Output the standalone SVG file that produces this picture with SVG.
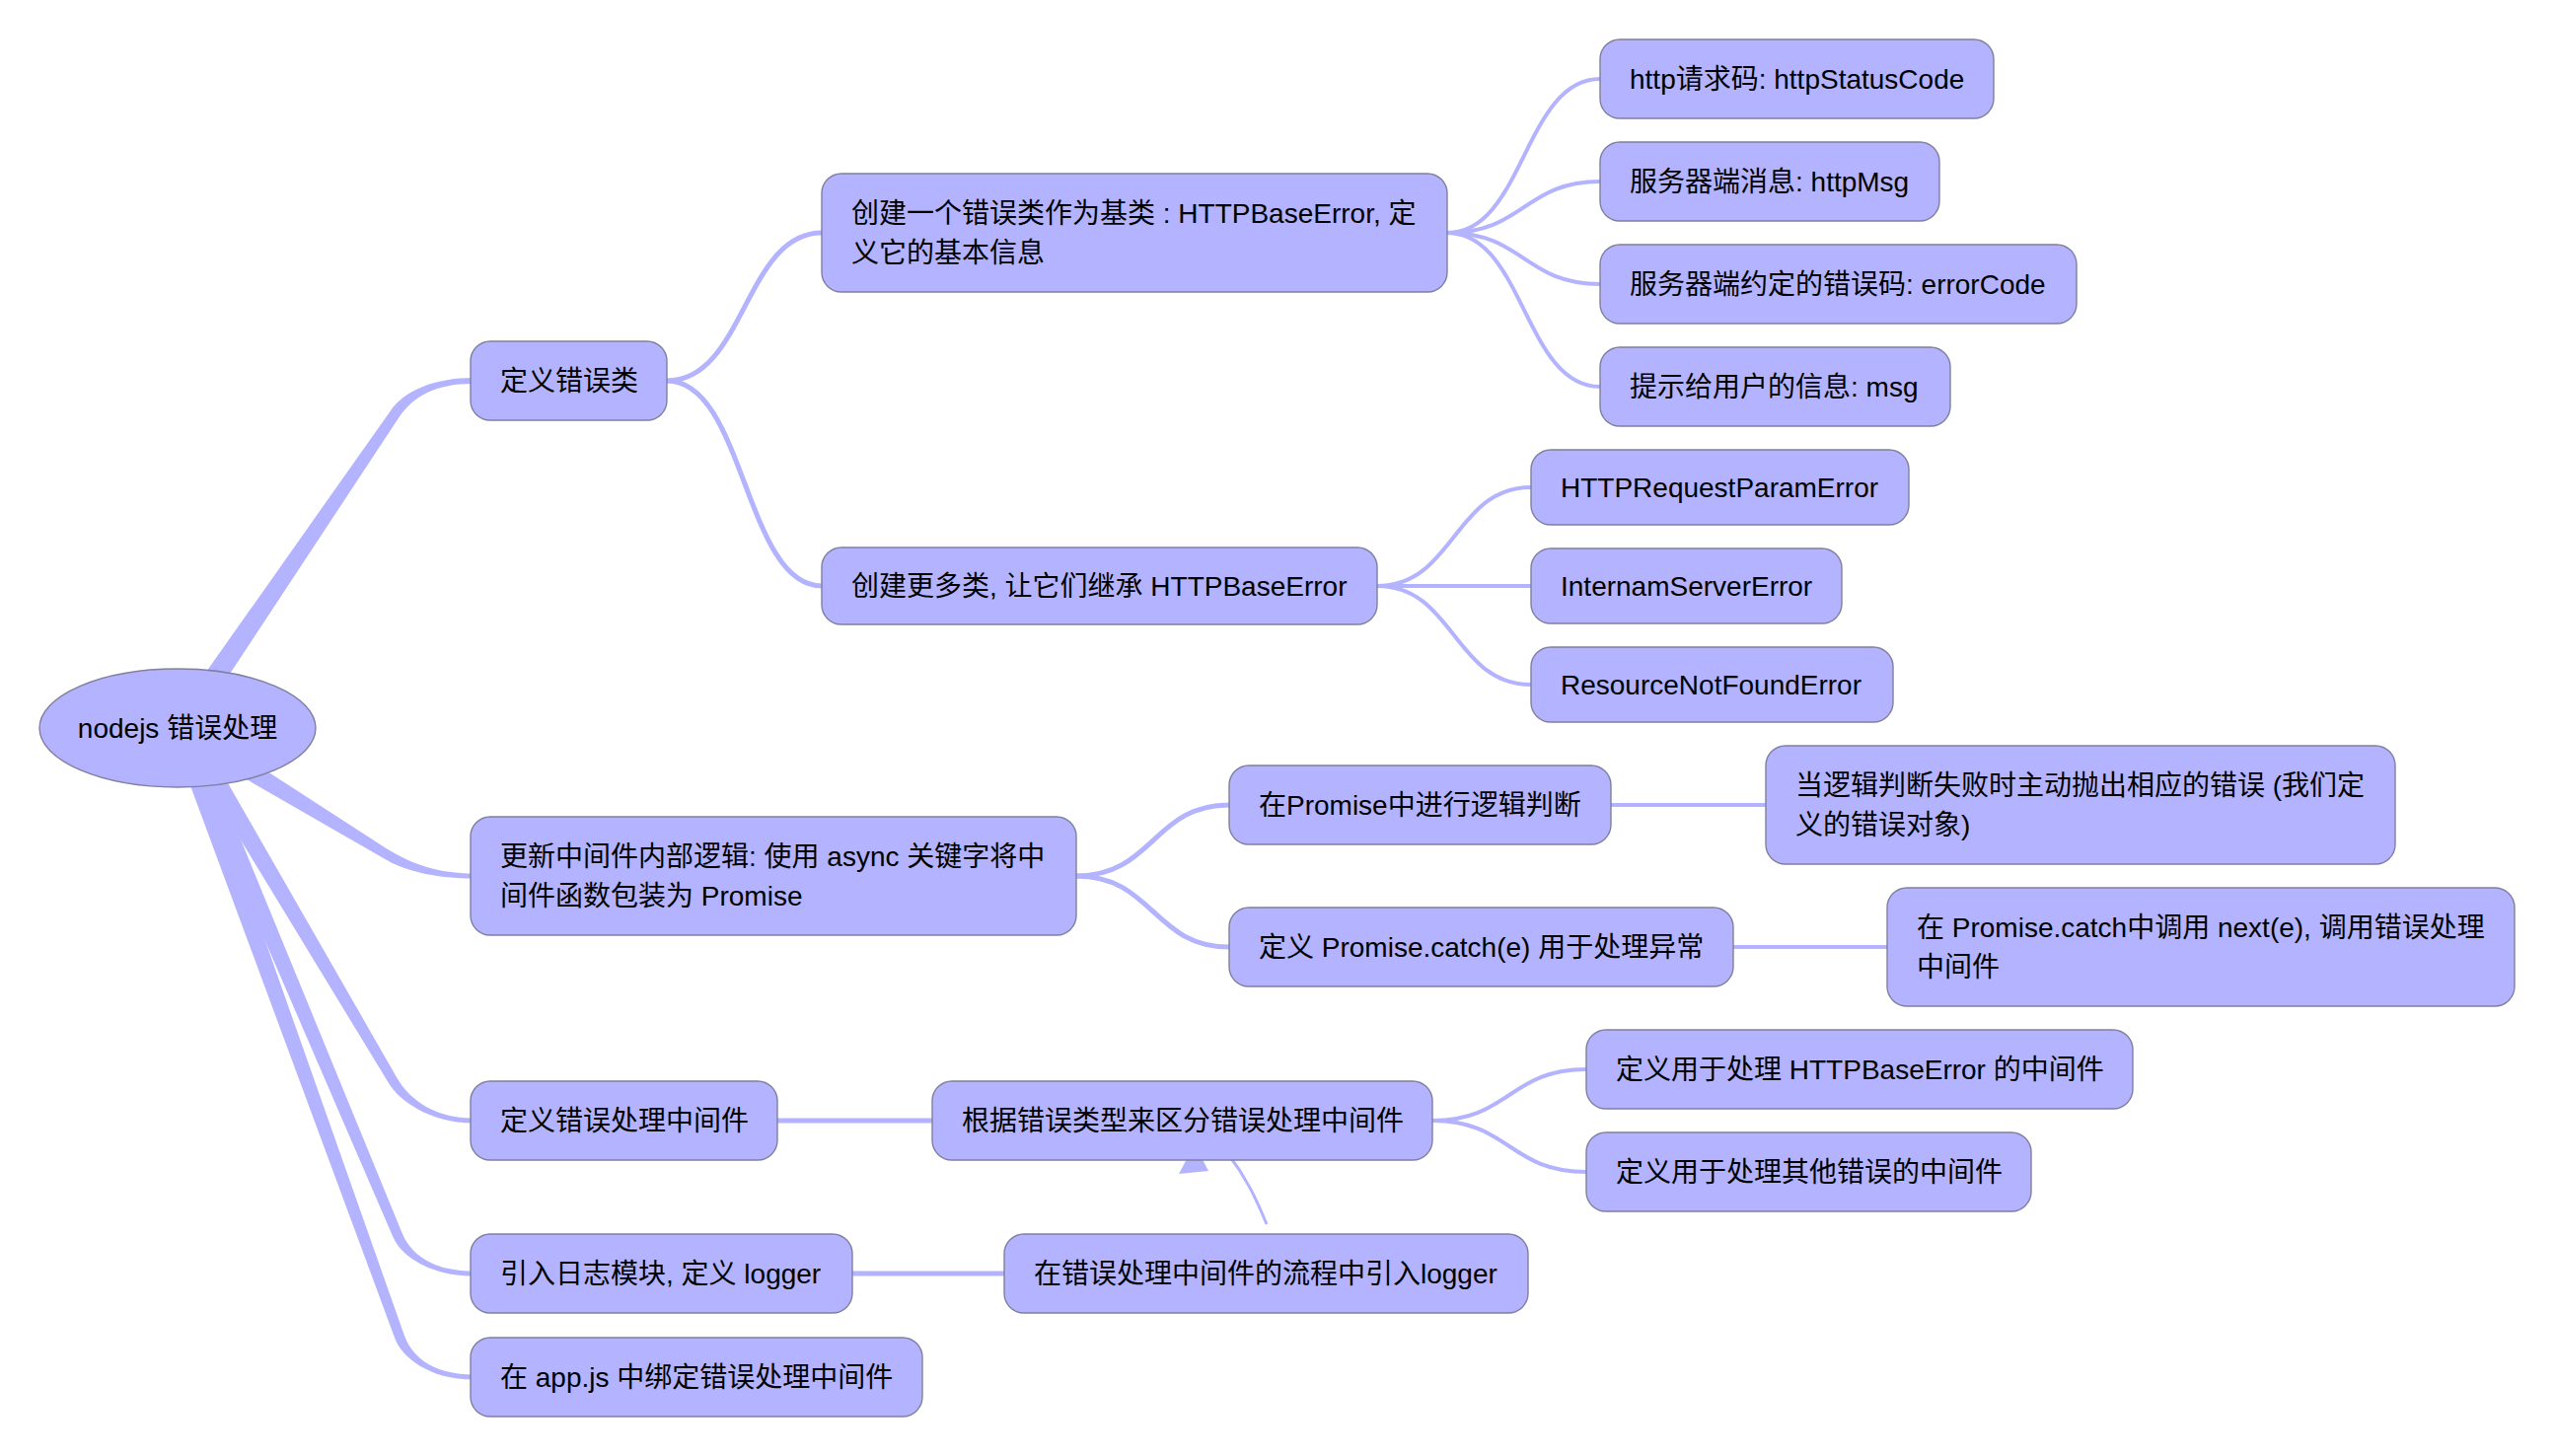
<svg xmlns="http://www.w3.org/2000/svg" width="2590" height="1476" viewBox="0 0 2590 1476">
<style>
.node rect, .node ellipse { fill: #b3b3ff; stroke: #7f7f9f; stroke-width: 1.4; }
.node text { font-family: "Liberation Sans", "Noto Sans CJK SC", sans-serif; font-size: 28px; fill: #000; }
.branch { fill: #b3b3ff; stroke: none; }
.e2 { fill: none; stroke: #b3b3ff; stroke-width: 5; }
.e3 { fill: none; stroke: #b3b3ff; stroke-width: 4; }
.link { fill: none; stroke: #b3b3ff; stroke-width: 3; }
.head { fill: #b3b3ff; }
</style>
<rect width="2590" height="1476" fill="#ffffff"/>
<g id="connectors">
  <!-- root branches (tapered) -->
  <path class="branch" d="M209.1,719.2 L404.5,423.1 C418.6,402.4 440,389 480,389 L480,383 C440,383 409.6,396.2 395.5,416.9 L190.9,706.8 Z"/>
  <path class="branch" d="M222.8,774.5 L387.4,869.3 C413,884.9 445,890.5 480,890.5 L480,885.5 C445,885.5 418.2,876.3 392.6,860.7 L233.2,757.5 Z"/>
  <path class="branch" d="M191.3,765 L393.7,1097.5 C403.6,1114.8 435,1138.5 480,1138.5 L480,1133.5 C435,1133.5 412.3,1109.8 402.3,1092.5 L208.7,755 Z"/>
  <path class="branch" d="M185.8,761.8 L398.4,1253.9 C406,1272.4 435,1293.5 480,1293.5 L480,1288.5 C435,1288.5 415.2,1268.6 407.6,1250.1 L204.3,754.2 Z"/>
  <path class="branch" d="M179.6,760.3 L400.3,1356.7 C407,1375.5 435,1398.5 480,1398.5 L480,1393.5 C435,1393.5 416.4,1372.2 409.7,1353.3 L198.4,753.7 Z"/>
  <!-- depth 2 -->
  <path class="e2" d="M676,386 C755,386 755,236 833,236"/>
  <path class="e2" d="M676,386 C755,386 755,594 833,594"/>
  <path class="e2" d="M1091,888 C1169,888 1169,816 1246,816"/>
  <path class="e2" d="M1091,888 C1169,888 1169,960 1246,960"/>
  <path class="e2" d="M788,1136 L945,1136"/>
  <path class="e2" d="M864,1291 L1018,1291"/>
  <!-- depth 3 -->
  <path class="e3" d="M1467,236 C1545,236 1545,80 1622,80"/>
  <path class="e3" d="M1467,236 C1545,236 1545,184 1622,184"/>
  <path class="e3" d="M1467,236 C1545,236 1545,288 1622,288"/>
  <path class="e3" d="M1467,236 C1545,236 1545,392 1622,392"/>
  <path class="e3" d="M1396,594 C1474,594 1474,494 1552,494"/>
  <path class="e3" d="M1396,594 L1552,594"/>
  <path class="e3" d="M1396,594 C1474,594 1474,694 1552,694"/>
  <path class="e3" d="M1633,816 L1790,816"/>
  <path class="e3" d="M1757,960 L1913,960"/>
  <path class="e3" d="M1452,1136 C1530,1136 1530,1084 1608,1084"/>
  <path class="e3" d="M1452,1136 C1530,1136 1530,1188 1608,1188"/>
  <!-- cross link -->
  <path class="link" d="M1284,1241 C1272,1212 1262,1192 1245,1170"/>
  <polygon class="head" points="1195,1190 1225,1187 1211,1160"/>
</g>
<g id="root" class="node"><ellipse cx="180" cy="738" rx="140" ry="60"/><text x="180" y="748" text-anchor="middle">nodejs 错误处理</text></g>
<g id="n-define" class="node"><rect x="477" y="346" width="199" height="80" rx="20"/><text x="507" y="396">定义错误类</text></g>
<g id="n-base" class="node"><rect x="833" y="176" width="634" height="120" rx="20"/><text x="863" y="226">创建一个错误类作为基类 : HTTPBaseError, 定</text><text x="863" y="266">义它的基本信息</text></g>
<g id="n-more" class="node"><rect x="833" y="555" width="563" height="78" rx="20"/><text x="863" y="604">创建更多类, 让它们继承 HTTPBaseError</text></g>
<g id="n-status" class="node"><rect x="1622" y="40" width="399" height="80" rx="20"/><text x="1652" y="90">http请求码: httpStatusCode</text></g>
<g id="n-httpmsg" class="node"><rect x="1622" y="144" width="344" height="80" rx="20"/><text x="1652" y="194">服务器端消息: httpMsg</text></g>
<g id="n-code" class="node"><rect x="1622" y="248" width="483" height="80" rx="20"/><text x="1652" y="298">服务器端约定的错误码: errorCode</text></g>
<g id="n-msg" class="node"><rect x="1622" y="352" width="355" height="80" rx="20"/><text x="1652" y="402">提示给用户的信息: msg</text></g>
<g id="n-param" class="node"><rect x="1552" y="456" width="383" height="76" rx="20"/><text x="1582" y="504">HTTPRequestParamError</text></g>
<g id="n-internal" class="node"><rect x="1552" y="556" width="315" height="76" rx="20"/><text x="1582" y="604">InternamServerError</text></g>
<g id="n-notfound" class="node"><rect x="1552" y="656" width="367" height="76" rx="20"/><text x="1582" y="704">ResourceNotFoundError</text></g>
<g id="n-update" class="node"><rect x="477" y="828" width="614" height="120" rx="20"/><text x="507" y="878">更新中间件内部逻辑: 使用 async 关键字将中</text><text x="507" y="918">间件函数包装为 Promise</text></g>
<g id="n-promise" class="node"><rect x="1246" y="776" width="387" height="80" rx="20"/><text x="1276" y="826">在Promise中进行逻辑判断</text></g>
<g id="n-throw" class="node"><rect x="1790" y="756" width="638" height="120" rx="20"/><text x="1820" y="806">当逻辑判断失败时主动抛出相应的错误 (我们定</text><text x="1820" y="846">义的错误对象)</text></g>
<g id="n-catch" class="node"><rect x="1246" y="920" width="511" height="80" rx="20"/><text x="1276" y="970">定义 Promise.catch(e) 用于处理异常</text></g>
<g id="n-next" class="node"><rect x="1913" y="900" width="636" height="120" rx="20"/><text x="1943" y="950">在 Promise.catch中调用 next(e), 调用错误处理</text><text x="1943" y="990">中间件</text></g>
<g id="n-mw" class="node"><rect x="477" y="1096" width="311" height="80" rx="20"/><text x="507" y="1146">定义错误处理中间件</text></g>
<g id="n-dispatch" class="node"><rect x="945" y="1096" width="507" height="80" rx="20"/><text x="975" y="1146">根据错误类型来区分错误处理中间件</text></g>
<g id="n-httpmw" class="node"><rect x="1608" y="1044" width="554" height="80" rx="20"/><text x="1638" y="1094">定义用于处理 HTTPBaseError 的中间件</text></g>
<g id="n-othermw" class="node"><rect x="1608" y="1148" width="451" height="80" rx="20"/><text x="1638" y="1198">定义用于处理其他错误的中间件</text></g>
<g id="n-logger" class="node"><rect x="477" y="1251" width="387" height="80" rx="20"/><text x="507" y="1301">引入日志模块, 定义 logger</text></g>
<g id="n-flow" class="node"><rect x="1018" y="1251" width="531" height="80" rx="20"/><text x="1048" y="1301">在错误处理中间件的流程中引入logger</text></g>
<g id="n-app" class="node"><rect x="477" y="1356" width="458" height="80" rx="20"/><text x="507" y="1406">在 app.js 中绑定错误处理中间件</text></g>
</svg>
